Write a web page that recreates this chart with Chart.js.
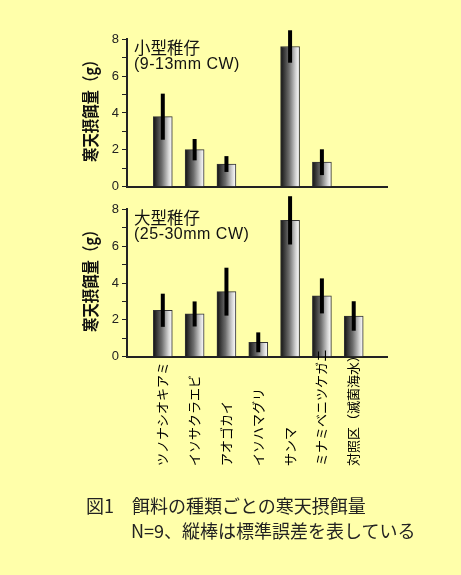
<!DOCTYPE html>
<html><head><meta charset="utf-8">
<script src="https://cdn.jsdelivr.net/npm/chart.js@4.4.1/dist/chart.umd.min.js"></script>
<style>
html,body{margin:0;padding:0;background:#FFFFAA;}
#wrap{position:relative;width:461px;height:575px;overflow:hidden;background:#FFFFAA;}
canvas{position:absolute;left:0;top:0;}
.t{position:absolute;white-space:nowrap;color:#111;line-height:18px;}
.cj{font-family:"Noto Sans CJK JP";font-size:16.5px;}
.la{font-family:"Liberation Sans";font-size:16px;letter-spacing:0.5px;}
.cap{position:absolute;white-space:nowrap;color:#222;font-family:"Noto Sans CJK JP";font-size:18px;line-height:20px;}
</style></head><body>
<div id="wrap">
<canvas id="c2" width="461" height="575"></canvas>
<canvas id="c1" width="461" height="575"></canvas>
<div class="t cj" style="left:134px;top:37.6px">小型稚仔</div>
<div class="t la" style="left:134px;top:54.5px">(9-13mm CW)</div>
<div class="t cj" style="left:134px;top:207.6px">大型稚仔</div>
<div class="t la" style="left:134px;top:224.5px">(25-30mm CW)</div>
<div class="cap" style="left:86px;top:495px">図1　餌料の種類ごとの寒天摂餌量</div>
<div class="cap" style="left:131px;top:520px">N=9、縦棒は標準誤差を表している</div>
</div>
<script>
const categories = ['ツノナシオキアミ','イソサクラエビ','アオゴカイ','イソハマグリ','サンマ','ミナミベニツケガニ','対照区（滅菌海水）'];
const smallValues = [3.80, 2.01, 1.23, 0, 7.61, 1.33, 0];
const smallErrors = [1.25, 0.58, 0.43, 0, 0.88, 0.70, 0];
const largeValues = [2.52, 2.32, 3.53, 0.78, 7.40, 3.30, 2.21];
const largeErrors = [0.90, 0.68, 1.30, 0.54, 1.31, 0.95, 0.80];
const yTickLabels = ['0','','2','','4','','6','','8'];
const yTitle = '寒天摂餌量（g）';

const gradientPlugin = {
  id:'barGradient',
  beforeDatasetsDraw(chart){
    const meta = chart.getDatasetMeta(0);
    meta.data.forEach(el=>{
      const half = el.width/2;
      if(!isFinite(el.x) || !isFinite(half)) return;
      const g = chart.ctx.createLinearGradient(el.x-half,0,el.x+half,0);
      g.addColorStop(0,'#111111');
      g.addColorStop(0.45,'#6e6e6e');
      g.addColorStop(0.8,'#d4d4d4');
      g.addColorStop(0.93,'#f2f2f2');
      g.addColorStop(1,'#dcdcdc');
      el.options.backgroundColor = g;
    });
  }
};

const errorBarPlugin = {
  id:'errorBars',
  afterDatasetsDraw(chart){
    const ctx = chart.ctx, ys = chart.scales.y;
    const ds = chart.data.datasets[0];
    const meta = chart.getDatasetMeta(0);
    ctx.save(); ctx.strokeStyle='#000'; ctx.lineWidth=4; ctx.lineCap='butt';
    meta.data.forEach((bar,i)=>{
      const v = ds.data[i].y, e = ds.errors[i];
      if(!e) return;
      ctx.beginPath();
      ctx.moveTo(bar.x, ys.getPixelForValue(v+e));
      ctx.lineTo(bar.x, ys.getPixelForValue(v-e));
      ctx.stroke();
    });
    ctx.restore();
  }
};

// y-axis title, drawn along the y scale
const yTitlePlugin = {
  id:'yTitle',
  afterDraw(chart){
    const ctx = chart.ctx, ys = chart.scales.y;
    const startY = ys.getPixelForValue(1.34); // text start (bottom end)
    ctx.save();
    ctx.font = 'bold 16px "Noto Sans CJK JP"';
    ctx.fillStyle = '#111';
    ctx.textAlign = 'left';
    ctx.textBaseline = 'middle';
    ctx.translate(91, startY);
    ctx.rotate(-Math.PI/2);
    ctx.scale(0.9, 1.06);
    ctx.fillText(yTitle, 0, 0);
    ctx.restore();
  }
};

const xLabelPlugin = {
  id:'xLabels',
  afterDraw(chart, args, opts){
    if(!opts.show) return;
    const ctx = chart.ctx, xs = chart.scales.x;
    ctx.save();
    ctx.font = '13px "Noto Sans CJK JP"';
    ctx.fillStyle = '#000';
    ctx.textAlign = 'left';
    ctx.textBaseline = 'middle';
    categories.forEach((c,i)=>{
      ctx.save();
      ctx.translate(xs.getPixelForValue(i)-0.5, 466);
      ctx.rotate(-Math.PI/2);
      ctx.fillText(c,0,0);
      ctx.restore();
    });
    ctx.restore();
  }
};

function makeChart(id, values, errors, padTop, padBottom, showLabels){
  return new Chart(document.getElementById(id), {
    type:'bar',
    data:{
      datasets:[{
        data: values.map((v,i)=>({x:i, y:v})),
        errors: errors,
        backgroundColor: (c) => '#888888',
        borderColor:'#333',
        borderWidth:1,
        barThickness:19
      }]
    },
    plugins:[gradientPlugin, errorBarPlugin, yTitlePlugin, xLabelPlugin],
    options:{
      responsive:false,
      animation:false,
      devicePixelRatio:1,
      layout:{padding:{top:padTop, right:74, bottom:padBottom, left:0}},
      plugins:{legend:{display:false}, tooltip:{enabled:false}, xLabels:{show:showLabels}},
      scales:{
        x:{
          type:'linear', min:-1.125, max:7.046, offset:false, bounds:'data',
          ticks:{display:false},
          grid:{display:false, offset:false},
          border:{display:true, color:'#222', width:2},
          afterFit: s => { s.height = 0; }
        },
        y:{
          min:0, max:8,
          ticks:{stepSize:1, autoSkip:false, padding:3, color:'#222',
                 font:{family:'"Liberation Sans"', size:13},
                 callback: v => yTickLabels[v] },
          grid:{display:true, drawOnChartArea:false, drawTicks:true, tickLength:5, color:'#222', lineWidth:1},
          border:{display:true, color:'#222', width:2},
          title:{display:false},
          afterFit: s => { s.width = 127; }
        }
      }
    }
  });
}

makeChart('c1', smallValues, smallErrors, 39.3, 388.3, false);
makeChart('c2', largeValues, largeErrors, 209.3, 218.3, true);
</script>
</body></html>
